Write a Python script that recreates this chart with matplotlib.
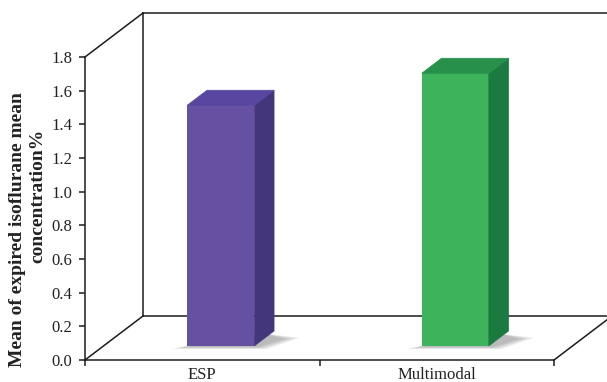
import matplotlib
matplotlib.use("Agg")
import matplotlib.pyplot as plt
from matplotlib.patches import Polygon
from matplotlib.lines import Line2D

# Data
categories = ["ESP", "Multimodal"]
values = [1.43, 1.62]
y_ticks = [0.0, 0.2, 0.4, 0.6, 0.8, 1.0, 1.2, 1.4, 1.6, 1.8]

# Styling
front_colors = ["#6650A2", "#3DB35B"]
side_colors = ["#44367A", "#1B7A40"]
top_colors = ["#5846A0", "#27904B"]
line_color = "#1c1c1c"
text_color = "#222222"

plt.rcParams["font.family"] = ["Liberation Serif", "DejaVu Serif"]

W, H = 607, 382
fig = plt.figure(figsize=(W / 100, H / 100), dpi=100)
ax = fig.add_axes([85 / W, (H - 360) / H, 469 / W, 303 / H])

ymax = 1.8
ax.set_xlim(-0.5, 1.5)
ax.set_ylim(0, ymax)

# Depth of the pseudo-3D box in data units
DX, DY = 0.2473, 0.2614
f0, f1 = 0.32, 0.66      # bar depth span, as fractions of the box depth
bar_w = 0.286

lw = 1.1
# back wall, side wall and floor outlines
x_back0 = -0.5 + DX
x_back1 = 1.5 + DX
outline = [
    ([-0.5, x_back0], [ymax, ymax + DY]),
    ([x_back0, x_back0], [DY, ymax + DY]),
    ([x_back0, x_back1], [ymax + DY, ymax + DY]),
    ([-0.5, x_back0], [0, DY]),
    ([x_back0, x_back1], [DY, DY]),
    ([1.5, x_back1], [0, DY]),
]
for xs, ys in outline:
    ax.add_line(Line2D(xs, ys, color=line_color, lw=lw, clip_on=False,
                       solid_capstyle="projecting", zorder=1))

# soft shadows on the floor around the base of each bar
xs = [i + f0 * DX for i in range(len(categories))]
ddx = (f1 - f0) * DX
ddy = (f1 - f0) * DY
for i, v in enumerate(values):
    x0 = xs[i] - bar_w / 2
    x1 = xs[i] + bar_w / 2
    y0 = f0 * DY
    for k in range(10):
        s = 0.005 * k
        pts = [(x0 - 0.025 - s, y0 - 0.006 - s * 0.3),
               (x1 + 0.01 + s, y0 - 0.006 - s * 0.3),
               (x1 + ddx + 0.04 + s * 1.6, y0 + ddy * 0.45 + s * 0.2),
               (x1 + ddx * 0.6, y0 + ddy * 0.8)]
        ax.add_patch(Polygon(pts, closed=True, facecolor="#6a6a6a",
                             edgecolor="none", alpha=0.055, zorder=2, clip_on=False))

# bars: front face through ax.bar, then side and top faces
ax.bar(xs, values, width=bar_w, bottom=f0 * DY, color=front_colors,
       edgecolor="none", zorder=4)
for i, v in enumerate(values):
    x0 = xs[i] - bar_w / 2
    x1 = xs[i] + bar_w / 2
    y0 = f0 * DY
    side = [(x1, y0), (x1 + ddx, y0 + ddy), (x1 + ddx, y0 + v + ddy), (x1, y0 + v)]
    top = [(x0, y0 + v), (x1, y0 + v), (x1 + ddx, y0 + v + ddy), (x0 + ddx, y0 + v + ddy)]
    ax.add_patch(Polygon(side, closed=True, facecolor=side_colors[i],
                         edgecolor=side_colors[i], lw=0.5, zorder=4, clip_on=False))
    ax.add_patch(Polygon(top, closed=True, facecolor=top_colors[i],
                         edgecolor=top_colors[i], lw=0.5, zorder=4, clip_on=False))

# axes
for s in ["top", "right"]:
    ax.spines[s].set_visible(False)
for s in ["left", "bottom"]:
    ax.spines[s].set_color(line_color)
    ax.spines[s].set_linewidth(lw)
    ax.spines[s].set_zorder(5)

ax.set_yticks(y_ticks)
ax.set_yticklabels([f"{t:.1f}" for t in y_ticks], fontsize=12, color=text_color)
ax.tick_params(axis="y", direction="out", length=4, width=lw, color=line_color, pad=5)

ax.set_xticks([-0.5, 0.5, 1.5])
ax.set_xticklabels([])
ax.set_xticks(range(len(categories)), minor=True)
ax.set_xticklabels(categories, minor=True, fontsize=12, color=text_color)
ax.tick_params(axis="x", which="major", direction="out", length=4, width=lw, color=line_color)
ax.tick_params(axis="x", which="minor", length=0, pad=5)

fig.text(18 / W, (H - 230) / H, "Mean of expired isoflurane mean", rotation=90,
         ha="center", va="center", fontsize=14, fontweight="bold", color=text_color)
fig.text(38 / W, (H - 196) / H, "concentration%", rotation=90,
         ha="center", va="center", fontsize=14, fontweight="bold", color=text_color)

fig.savefig("out.png", dpi=100)
